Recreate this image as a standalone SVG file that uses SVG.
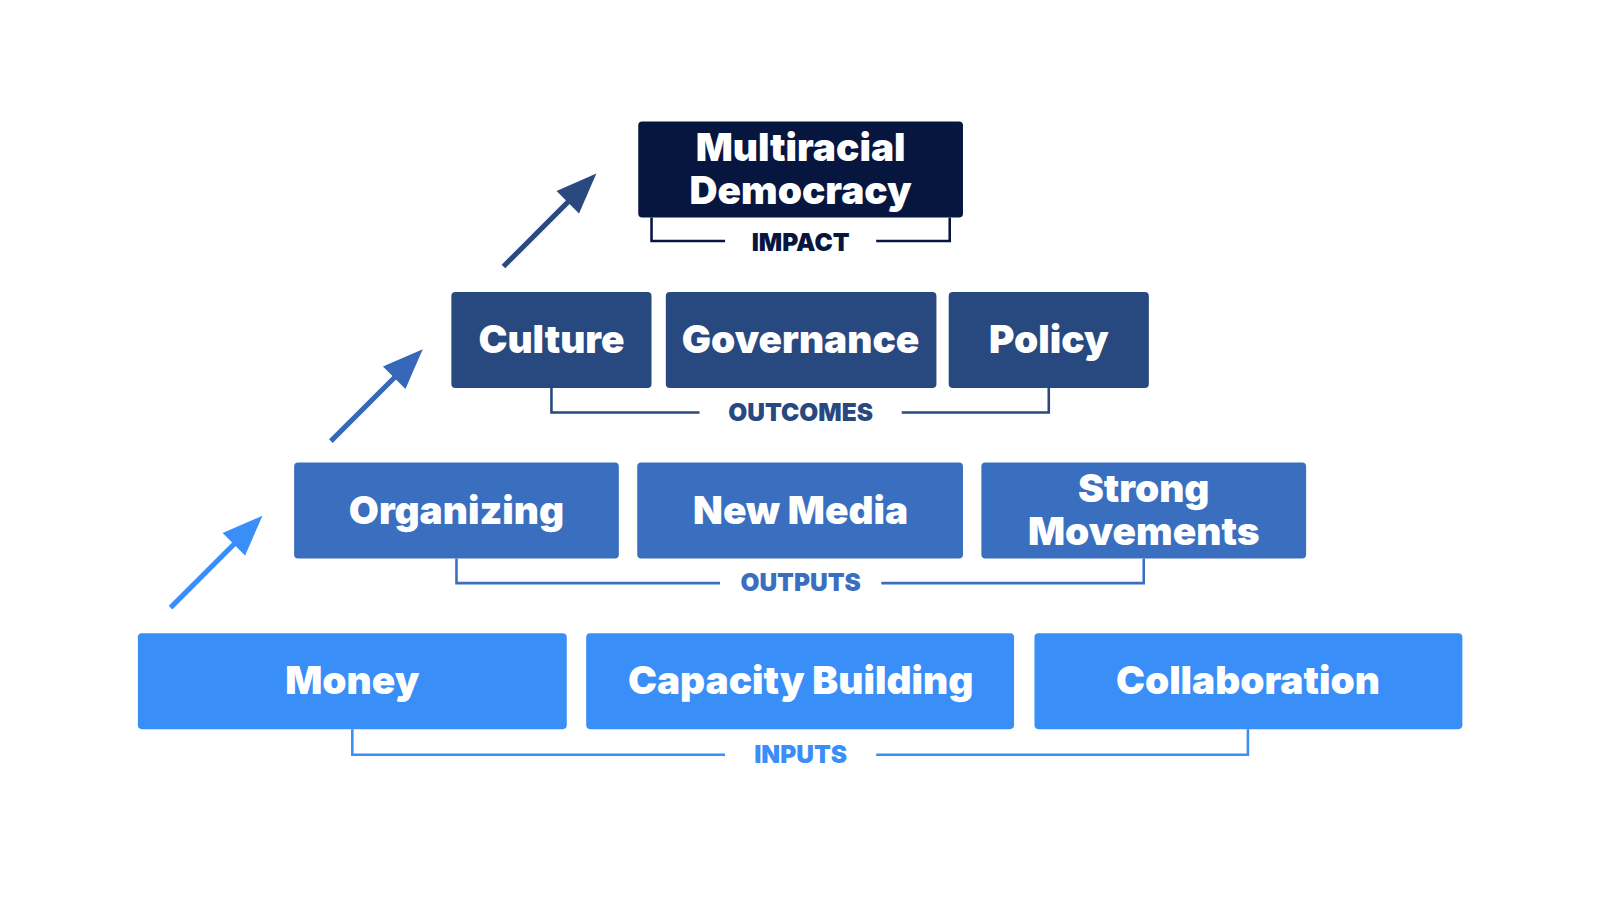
<svg xmlns="http://www.w3.org/2000/svg" width="1600" height="900" viewBox="0 0 1600 900">
<style>
.t{font-family:Inter,"Noto Sans",sans-serif;font-weight:900;font-size:38px;fill:#fff;text-anchor:middle}
.l{font-family:Inter,"Noto Sans",sans-serif;font-weight:900;font-size:24px;text-anchor:middle}
.br{fill:none;stroke-width:2.5}
</style>
<rect width="1600" height="900" fill="#fff"/>
<g transform="scale(1.0212)">
<g id="connectors">
<path class="br" stroke="#06163f" d="M638,213 V236 H710 M858,236 H930 V213"/>
<path class="br" stroke="#28497f" d="M540,380 V404 H685 M883,404 H1027 V380"/>
<path class="br" stroke="#3a6fc0" d="M447,547 V571 H705 M863,571 H1120 V547"/>
<path class="br" stroke="#3a8ef8" d="M345,714 V739 H710 M858,739 H1222 V714"/>
<g stroke-width="5">
<line x1="167" y1="595" x2="232" y2="530" stroke="#3a8ef8"/>
<polygon points="257,505 218,522 240,544" fill="#3a8ef8"/>
<line x1="324" y1="432" x2="389" y2="367" stroke="#3568b8"/>
<polygon points="414,342 375,359 397,381" fill="#3568b8"/>
<line x1="493" y1="261" x2="559" y2="195" stroke="#2a4a7f"/>
<polygon points="584,170 545,187 567,209" fill="#2a4a7f"/>
</g>
</g>
<text class="l" x="784" y="246" fill="#06163f">IMPACT</text>
<text class="l" x="784" y="412" fill="#28497f">OUTCOMES</text>
<text class="l" x="784" y="579" fill="#3a6fc0">OUTPUTS</text>
<text class="l" x="784" y="747" fill="#3a8ef8">INPUTS</text>
<g id="impact"><rect x="625" y="119" width="318" height="94" rx="4" fill="#06163f"/><text class="t" x="784" y="158">Multiracial</text><text class="t" x="784" y="200">Democracy</text></g>
<g id="culture"><rect x="442" y="286" width="196" height="94" rx="4" fill="#28497f"/><text class="t" x="540" y="346">Culture</text></g>
<g id="governance"><rect x="652" y="286" width="265" height="94" rx="4" fill="#28497f"/><text class="t" x="784" y="346">Governance</text></g>
<g id="policy"><rect x="929" y="286" width="196" height="94" rx="4" fill="#28497f"/><text class="t" x="1027" y="346">Policy</text></g>
<g id="organizing"><rect x="288" y="453" width="318" height="94" rx="4" fill="#3a6fc0"/><text class="t" x="447" y="513">Organizing</text></g>
<g id="newmedia"><rect x="624" y="453" width="319" height="94" rx="4" fill="#3a6fc0"/><text class="t" x="784" y="513">New Media</text></g>
<g id="strong"><rect x="961" y="453" width="318" height="94" rx="4" fill="#3a6fc0"/><text class="t" x="1120" y="492">Strong</text><text class="t" x="1120" y="534">Movements</text></g>
<g id="money"><rect x="135" y="620" width="420" height="94" rx="4" fill="#3a8ef8"/><text class="t" x="345" y="680">Money</text></g>
<g id="capacity"><rect x="574" y="620" width="419" height="94" rx="4" fill="#3a8ef8"/><text class="t" x="784" y="680">Capacity Building</text></g>
<g id="collab"><rect x="1013" y="620" width="419" height="94" rx="4" fill="#3a8ef8"/><text class="t" x="1222" y="680">Collaboration</text></g>
</g>
</svg>
